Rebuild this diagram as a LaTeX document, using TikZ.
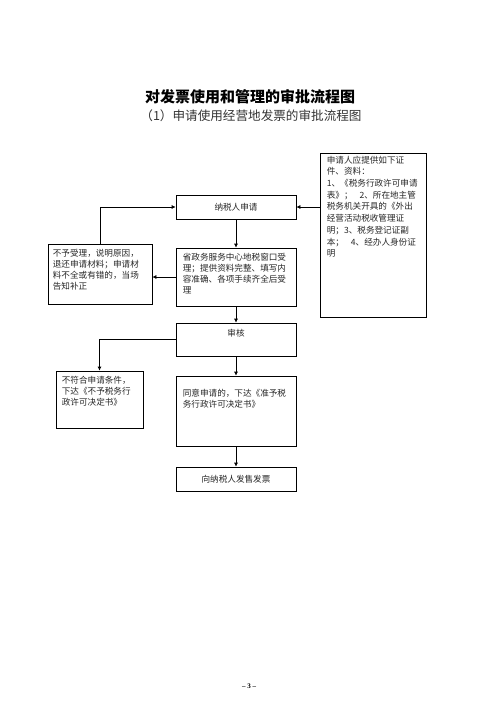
\documentclass[tikz,border=0pt]{standalone}
\usepackage{fontspec}
\usetikzlibrary{arrows.meta}
\setmainfont{Liberation Serif}
\newfontfamily\cjk{Noto Sans CJK SC}

\tikzset{
    box/.style={draw, line width=0.7pt, minimum width=120pt, minimum height=24pt, inner sep=0pt},
    txt/.style={font=\cjk\fontsize{8.6}{11}\selectfont, align=left, inner sep=0pt, anchor=north west, text=black!85},
    arr/.style={line width=0.7pt, -{Latex[length=4pt,width=4pt]}}
}

\begin{document}
\begin{tikzpicture}[x=1pt, y=-1pt]
    \useasboundingbox (0,0) rectangle (500,707);
    % Titles
    \node (title) at (250,97) {\cjk\bfseries\fontsize{15}{15}\selectfont 对发票使用和管理的审批流程图};
    \node[text=black!80] (subtitle) at (251,116) {\cjk\fontsize{12.6}{13}\selectfont （1）申请使用经营地发票的审批流程图};

    % Boxes of the main column
    \node[box] (apply) at (236,207) {};
    \node[box, minimum height=58pt] (accept) at (236,277) {};
    \node[box, minimum height=33pt] (review) at (236,339.5) {};
    \node[box, minimum height=70pt] (agree) at (236,411) {};
    \node[box] (issue) at (236,479) {};
    % Side boxes
    \node[box, minimum width=106pt, minimum height=164pt] (docs) at (373,235) {};
    \node[box, minimum width=104pt, minimum height=60pt] (refuse) at (100,274) {};
    \node[box, minimum width=87pt, minimum height=57pt] (reject) at (99.5,399.5) {};

    % Texts
    \node[txt, anchor=center] (applytxt) at (apply) {纳税人申请};
    \node[txt, anchor=north] (reviewtxt) at ([yshift=-6pt]review.north) {审核};
    \node[txt, anchor=center] (issuetxt) at (issue) {向纳税人发售发票};
    \node[txt, font=\cjk\fontsize{8.6}{11.7}\selectfont] (docstxt) at ([shift={(7,3)}]docs.north west)
        {申请人应提供如下证\\件、资料：\\1、《税务行政许可申请\\表》；\hspace{0.8em}2、所在地主管\\税务机关开具的《外出\\经营活动税收管理证\\明；3、税务登记证副\\本；\hspace{0.8em}4、经办人身份证\\明};
    \node[txt] (accepttxt) at ([shift={(7,5)}]accept.north west)
        {省政务服务中心地税窗口受\\理；提供资料完整、填写内\\容准确、各项手续齐全后受\\理};
    \node[txt] (refusetxt) at ([shift={(5,5)}]refuse.north west)
        {不予受理，说明原因，\\退还申请材料；申请材\\料不全或有错的，当场\\告知补正};
    \node[txt] (rejecttxt) at ([shift={(6,5)}]reject.north west)
        {不符合申请条件，\\下达《不予税务行\\政许可决定书》};
    \node[txt] (agreetxt) at ([shift={(7,13)}]agree.north west)
        {同意申请的，下达《准予税\\务行政许可决定书》};

    % Connectors
    \draw[arr] (docs.west |- apply.east) -- (apply.east);
    \draw[arr] (apply) -- (accept);
    \draw[arr] (accept.west) -- (accept.west -| refuse.east);
    \draw[arr] (refuse.north) |- (apply.west);
    \draw[arr] (accept) -- (review);
    \draw[arr] (review.west) -| (reject.north);
    \draw[arr] (review) -- (agree);
    \draw[arr] (agree) -- (issue);

    % Page number
    \node[font=\bfseries\fontsize{7}{8}\selectfont] (page) at (249,686) {-- 3 --};
\end{tikzpicture}
\end{document}
